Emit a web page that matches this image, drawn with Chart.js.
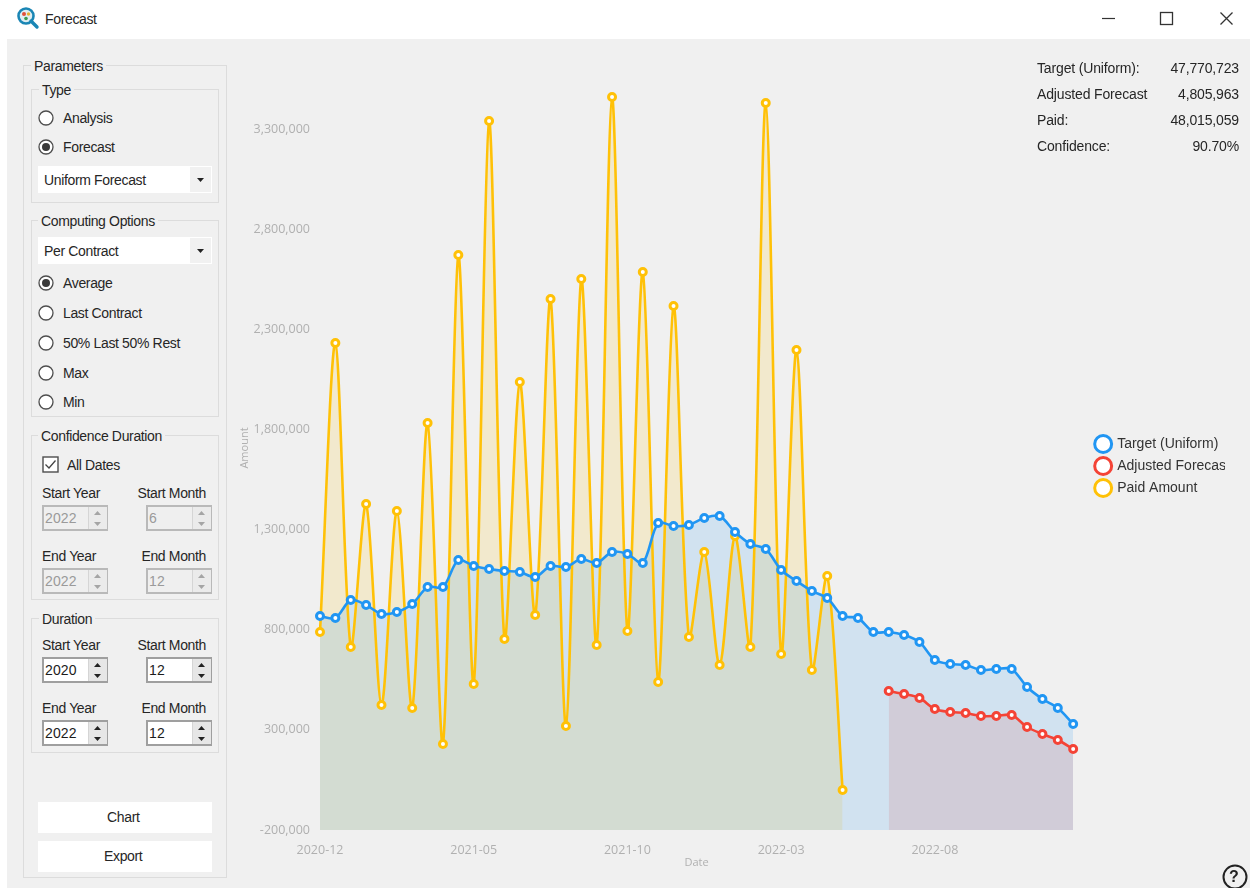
<!DOCTYPE html>
<html>
<head>
<meta charset="utf-8">
<title>Forecast</title>
<script src="https://cdn.jsdelivr.net/npm/chart.js@4"></script>
<style>
html,body{margin:0;padding:0;background:#fff;width:1252px;height:888px;overflow:hidden;font-family:"Liberation Sans",Arial,sans-serif;font-size:14px;color:#262626}
#win{position:absolute;left:7px;top:39px;width:1243px;height:849px;background:#f0f0f0}
.t{position:absolute;white-space:nowrap;line-height:18px;height:18px;letter-spacing:-.35px}
#ui2 .t{letter-spacing:-.15px}
.g{position:absolute;border:1px solid #dcdcdc;box-sizing:border-box}
.gl{position:absolute;background:#f0f0f0;padding:0 3px;white-space:nowrap;line-height:16px;height:16px;letter-spacing:-.35px}
.w{position:absolute;background:#fff}
canvas{position:absolute;left:232px;top:40px}
</style>
</head>
<body>
<div id="win"></div>
<div id="ui"></div>
<canvas id="c" width="993" height="848"></canvas>
<div id="ui2"></div>
<script>
const categories = ["2020-12","2020-12","2021-01","2021-01","2021-02","2021-02","2021-03","2021-03","2021-04","2021-04",
"2021-05","2021-05","2021-06","2021-06","2021-07","2021-07","2021-08","2021-08","2021-09","2021-09",
"2021-10","2021-10","2021-11","2021-11","2021-12","2021-12","2022-01","2022-01","2022-02","2022-02",
"2022-03","2022-03","2022-04","2022-04","2022-05","2022-05","2022-06","2022-06","2022-07","2022-07",
"2022-08","2022-08","2022-09","2022-09","2022-10","2022-10","2022-11","2022-11","2022-12","2022-12"];
const targetUniform = [868500,858500,948400,923400,878500,888500,928400,1013300,1013300,1148100,
1118200,1103200,1093200,1088200,1063200,1118200,1113100,1153100,1133100,1188100,
1178100,1133100,1332900,1317900,1322900,1357800,1367800,1287900,1228000,1203000,
1098200,1043300,993300,958400,868500,858500,788600,788600,773600,738700,
648800,628800,623800,598900,603900,603900,514000,454100,409100,329300];
const adjustedForecast = [null,null,null,null,null,null,null,null,null,null,
null,null,null,null,null,null,null,null,null,null,
null,null,null,null,null,null,null,null,null,null,
null,null,null,null,null,null,null,494000,479000,459100,
404200,389200,384200,369200,369200,374200,314300,279300,249400,204400];
const paidAmount = [788600,2231600,713700,1427700,424100,1392800,409100,1832100,229400,2671000,
529000,3340000,753700,2036900,873500,2451300,319300,2551100,723700,3459900,
793600,2586100,539000,2416300,763600,1188100,623800,1267900,713700,3429900,
678800,2196600,598900,1068200,-300,null,null,null,null,null,
null,null,null,null,null,null,null,null,null,null];
const yTickValues = [-200000,300000,800000,1300000,1800000,2300000,2800000,3300000];
const seriesNames = ["Target (Uniform)","Adjusted Forecast","Paid Amount"];

const TICK = '#b0b0b0';
function ds(label,data,color,fill){
  return {label,data,borderColor:color,backgroundColor:fill,fill:'start',borderWidth:2.6,tension:.3,
    pointRadius:3.5,pointBorderWidth:3,pointBackgroundColor:'#fff',pointBorderColor:color,pointStyle:'circle',spanGaps:false};
}
const legendNudge = {id:'legendNudge',afterLayout(chart){
  const l=chart.legend; if(!l) return;
  l.left+=15; l.right+=15; l.top-=11; l.bottom-=11;
}};
new Chart(document.getElementById('c'),{
  type:'line',
  plugins:[legendNudge],
  data:{labels:categories,datasets:[
    ds(seriesNames[0],targetUniform,'#2196f3','rgba(33,150,243,.15)'),
    ds(seriesNames[1],adjustedForecast,'#f44336','rgba(244,67,54,.15)'),
    ds(seriesNames[2],paidAmount,'#ffc107','rgba(255,193,7,.15)')
  ]},
  options:{
    responsive:false,animation:false,
    layout:{padding:{left:0,top:26,right:0,bottom:0}},
    plugins:{
      filler:{drawTime:'beforeDatasetsDraw'},
      tooltip:{enabled:false},
      legend:{display:true,position:'right',align:'center',
        labels:{usePointStyle:true,boxHeight:12,padding:8,color:'#333',font:{family:'"Liberation Sans"',size:14}}}
    },
    scales:{
      x:{type:'category',offset:false,grid:{display:false,drawTicks:false},border:{display:false},
        title:{display:true,text:'Date',color:TICK,font:{family:'"Open Sans"',size:11},padding:{top:2,bottom:19}},
        ticks:{autoSkip:false,maxRotation:0,minRotation:0,padding:13,color:TICK,font:{family:'"Open Sans"',size:12.5},
          callback:(v,i)=> i%10===0 ? categories[i] : null},
        afterFit:s=>{s.height=58;}
      },
      y:{type:'linear',min:-200000,max:3615000,grid:{display:false,drawTicks:false},border:{display:false},
        title:{display:true,text:'Amount',color:TICK,font:{family:'"Open Sans"',size:11},padding:{top:6,bottom:0}},
        afterBuildTicks:s=>{s.ticks=yTickValues.map(v=>({value:v}));},
        ticks:{padding:10,color:TICK,font:{family:'"Open Sans"',size:12.5},callback:v=>v.toLocaleString('en-US')},
        afterFit:s=>{s.width=88;}
      }
    }
  }
});

/* window chrome */
const ui=document.getElementById('ui'), ui2=document.getElementById('ui2');
function el(cls,css,txt,p){const d=document.createElement('div');d.className=cls;d.style.cssText=css;if(txt!=null)d.textContent=txt;(p||ui).appendChild(d);return d;}
function T(x,y,s,extra){return el('t',`left:${x}px;top:${y-9}px;${extra||''}`,s);}
function TR(xr,y,s,extra){return el('t',`right:${1252-xr}px;top:${y-9}px;${extra||''}`,s);}
function G(x,y,r,b,label,lx){el('g',`left:${x}px;top:${y}px;width:${r-x}px;height:${b-y}px`);el('gl',`left:${lx-3}px;top:${y-7}px`,label);}
function svg(x,y,w,h,inner,p){const d=document.createElement('div');d.style.cssText=`position:absolute;left:${x}px;top:${y}px;width:${w}px;height:${h}px`;d.innerHTML=`<svg xmlns="http://www.w3.org/2000/svg" width="${w}" height="${h}" style="display:block">${inner}</svg>`;(p||ui).appendChild(d);}
function radio(cy,label,on){svg(38,cy-8,16,16,`<circle cx="8" cy="8" r="7" fill="#fff" stroke="#4d4d4d" stroke-width="1.3"/>`+(on?`<circle cx="8" cy="8" r="4" fill="#3a3a3a"/>`:''));T(63,cy,label);}
function combo(y,label){el('w',`left:38px;top:${y}px;width:174px;height:27px`);el('',`position:absolute;left:190px;top:${y+1}px;width:21px;height:25px;background:#f1f1f1`);
  svg(197,y+12,7,4,`<path d="M0 0H7L3.5 4Z" fill="#222"/>`);T(44,y+14,label);}
function spin(x,y,val,disabled){
  const bc=disabled?'#b9b9b9':'#9f9f9f';
  el('',`position:absolute;left:${x}px;top:${y}px;width:66px;height:26px;box-sizing:border-box;border:2px solid ${bc};background:${disabled?'#efefef':'#fff'}`);
  el('',`position:absolute;left:${x+46}px;top:${y+2}px;width:18px;height:22px;background:${disabled?'#ebebeb':'#e6e6e6'};border-left:1px solid #d5d5d5`);
  const c=disabled?'#a5a5a5':'#222';
  svg(x+51,y+6,9,15,`<path d="M4.5 0L8 4H1Z" fill="${c}"/><path d="M1 11H8L4.5 15Z" fill="${c}"/>`);
  T(x+3,y+13,val,`color:${disabled?'#9a9a9a':'#1c1c1c'};letter-spacing:.1px`);
}
/* title bar */
svg(16,6,24,24,`<circle cx="10" cy="10" r="7.5" fill="#dfeef2" stroke="#1a86b5" stroke-width="2.6"/>
<circle cx="8" cy="8" r="2" fill="#e0503a"/><circle cx="12.5" cy="8" r="1.7" fill="#e8b030"/><circle cx="10" cy="12.5" r="1.8" fill="#3a9a50"/>
<path d="M15 15L21 21" stroke="#1a86b5" stroke-width="3.4" stroke-linecap="round"/>`);
T(45,19,'Forecast');
svg(1100,8,140,20,`<path d="M2 10.5H15" stroke="#333" stroke-width="1.2"/><rect x="60.5" y="4.5" width="12" height="12" fill="none" stroke="#333" stroke-width="1.3"/>
<path d="M120.5 4.5L132.5 16.5M132.5 4.5L120.5 16.5" stroke="#333" stroke-width="1.3"/>`);
/* left panel */
G(23,65,227,878,'Parameters',34);
G(31,89,219,203,'Type',42);
radio(118,'Analysis',false);radio(147,'Forecast',true);combo(166,'Uniform Forecast');
G(31,220,219,417,'Computing Options',41);
combo(237,'Per Contract');
radio(283,'Average',true);radio(313,'Last Contract',false);radio(343,'50% Last 50% Rest',false);radio(373,'Max',false);radio(402,'Min',false);
G(31,435,219,600,'Confidence Duration',41);
svg(42,456,17,17,`<rect x="1" y="1" width="15" height="15" fill="#fff" stroke="#4d4d4d" stroke-width="1.4"/><path d="M3.5 8.5L7 12L13.5 4.5" fill="none" stroke="#444" stroke-width="1.3"/>`);
T(67,465,'All Dates');
T(42,493,'Start Year');TR(206,493,'Start Month');
spin(42,505,'2022',true);spin(146,505,'6',true);
T(42,556,'End Year');TR(206,556,'End Month');
spin(42,568,'2022',true);spin(146,568,'12',true);
G(31,618,219,753,'Duration',42);
T(42,645,'Start Year');TR(206,645,'Start Month');
spin(42,657,'2020',false);spin(146,657,'12',false);
T(42,708,'End Year');TR(206,708,'End Month');
spin(42,720,'2022',false);spin(146,720,'12',false);
el('w','left:38px;top:802px;width:174px;height:31px');T(107,817,'Chart');
el('w','left:38px;top:841px;width:174px;height:31px');T(104,856,'Export');
/* stats */
function stat(y,a,b){el('t',`left:1037px;top:${y-9}px`,a,ui2);el('t',`right:13px;top:${y-9}px`,b,ui2);}
stat(68,'Target (Uniform):','47,770,723');stat(94,'Adjusted Forecast','4,805,963');stat(120,'Paid:','48,015,059');stat(146,'Confidence:','90.70%');
/* help */
svg(1222,864,26,24,`<circle cx="13" cy="13" r="11.5" fill="none" stroke="#222" stroke-width="2"/>`,ui2);
el('t','left:1229px;top:868px;font-weight:bold;font-size:16px;color:#222;letter-spacing:0','?',ui2);
</script>
</body>
</html>
